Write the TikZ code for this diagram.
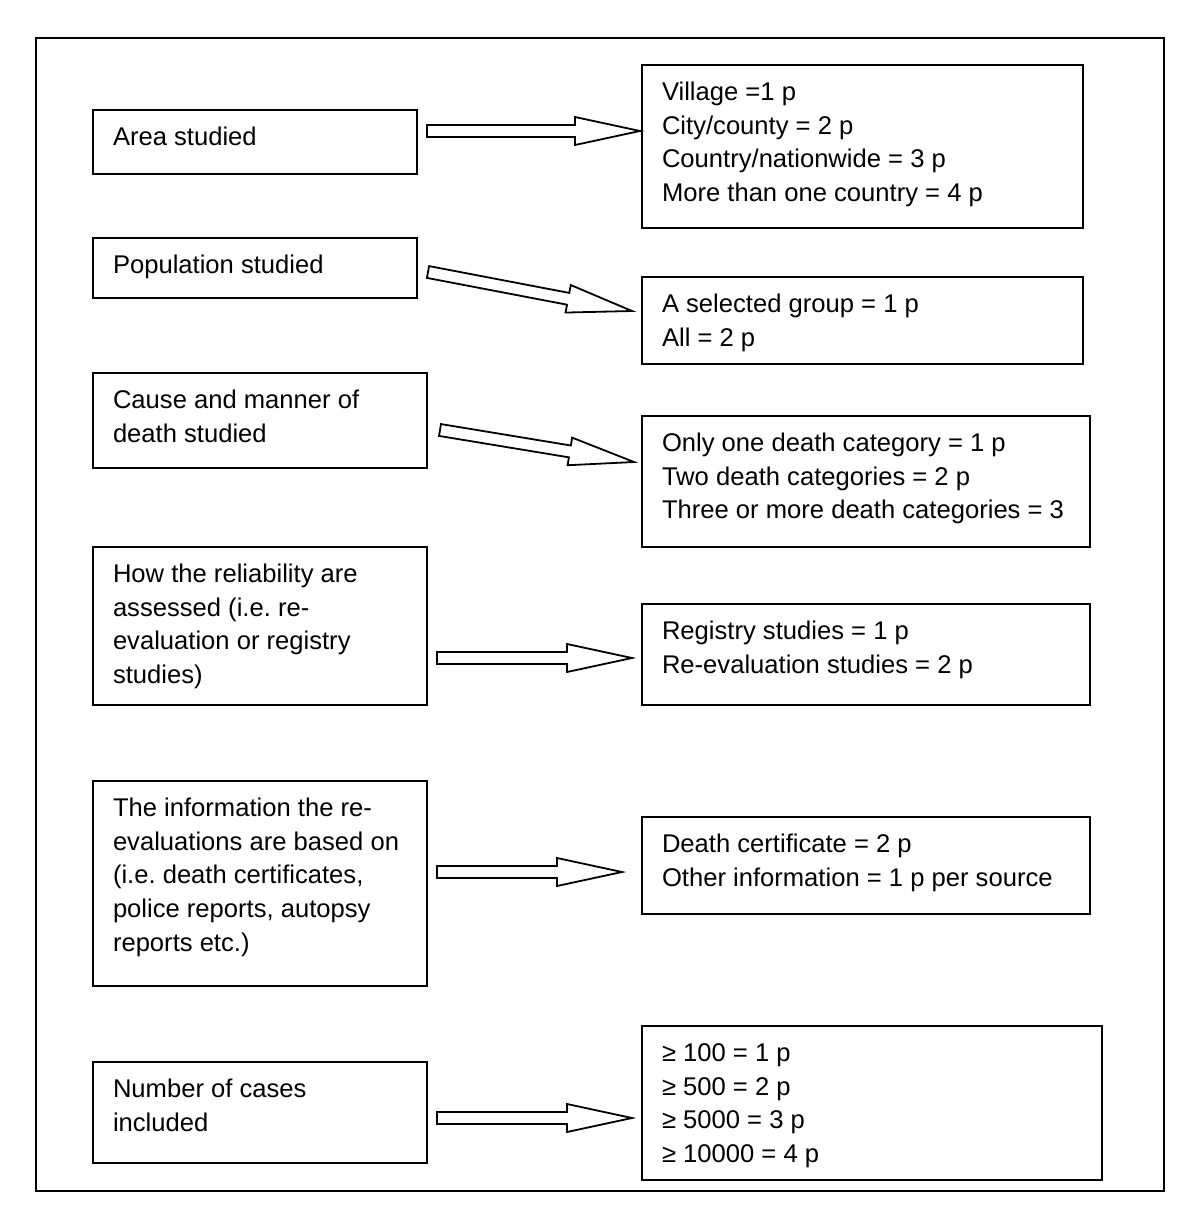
\documentclass[tikz,border=0pt]{standalone}
\usepackage{fontspec}
\setmainfont{Liberation Sans}
\usetikzlibrary{calc}
\frenchspacing

% text block of a box: width and height given in picture units
\newcommand{\cell}[3]{\parbox[c][\dimexpr#2pt/2-10pt\relax][t]{\dimexpr#1pt/2-20pt\relax}{\vspace*{0.8pt}\fontsize{12.8}{16.9}\selectfont\raggedright\strut #3}}

% hollow block arrow from #1 to #2
\newcommand{\blockarrow}[2]{%
  \coordinate (bah) at ($(#2)!32.5pt!(#1)$);
  \draw[fatarrow] ($(#1)!3pt!90:(#2)$) -- ($(bah)!3pt!-90:(#1)$) -- ($(bah)!7pt!-90:(#1)$)
    -- (#2) -- ($(bah)!7pt!90:(#1)$) -- ($(bah)!3pt!90:(#1)$) -- ($(#1)!3pt!-90:(#2)$) -- cycle;}

\tikzset{
  box/.style={draw, line width=1pt, anchor=north west, inner xsep=10pt, inner ysep=5pt, outer sep=0pt},
  fatarrow/.style={draw, line width=0.9pt, fill=white, line join=miter},
}

\begin{document}
\begin{tikzpicture}[x=0.5pt, y=-0.5pt]
\useasboundingbox (0,0) rectangle (1200,1232);
\draw[line width=1pt] (36,38) rectangle (1164,1191); %outer frame

%left column
\node[box] (area) at (93,110) {\cell{324}{64}{Area studied}};
\node[box] (pop) at (93,238) {\cell{324}{60}{Population studied}};
\node[box] (cause) at (93,373) {\cell{334}{95}{Cause and manner of\\ death studied}};
\node[box] (reliab) at (93,547) {\cell{334}{158}{How the reliability are\\ assessed (i.e. re-\\ evaluation or registry\\ studies)}};
\node[box] (info) at (93,781) {\cell{334}{205}{The information the re-\\ evaluations are based on\\ (i.e. death certificates,\\ police reports, autopsy\\ reports etc.)}};
\node[box] (cases) at (93,1062) {\cell{334}{101}{Number of cases\\ included}};

%right column
\node[box] (areapts) at (642,65) {\cell{441}{163}{Village =1 p\\ City/county = 2 p\\ Country/nationwide = 3 p\\ More than one country = 4 p}};
\node[box] (poppts) at (642,277) {\cell{441}{87}{A selected group = 1 p\\ All = 2 p}};
\node[box] (causepts) at (642,416) {\cell{448}{131}{Only one death category = 1 p\\ Two death categories = 2 p\\ Three or more death categories = 3}};
\node[box] (reliabpts) at (642,604) {\cell{448}{101}{Registry studies = 1 p\\ Re-evaluation studies = 2 p}};
\node[box] (infopts) at (642,817) {\cell{448}{97}{Death certificate = 2 p\\ Other information = 1 p per source}};
\node[box] (casespts) at (642,1026) {\cell{460}{154}{≥ 100 = 1 p\\ ≥ 500 = 2 p\\ ≥ 5000 = 3 p\\ ≥ 10000 = 4 p}};

%arrow ends
\coordinate (a1s) at ([shift={(10,-11)}]area.east);
\coordinate (a1e) at ([shift={(-2,-15.5)}]areapts.west);
\coordinate (a2s) at ([shift={(11,4)}]pop.east);
\coordinate (a2e) at ([shift={(-10,-9.5)}]poppts.west);
\coordinate (a3s) at ([shift={(13,9.5)}]cause.east);
\coordinate (a3e) at ([shift={(-8,-19.5)}]causepts.west);
\coordinate (a4s) at ([shift={(10,32)}]reliab.east);
\coordinate (a4e) at ([shift={(-10,3.5)}]reliabpts.west);
\coordinate (a5s) at ([shift={(10,-11.5)}]info.east);
\coordinate (a5e) at ([shift={(-20,6.5)}]infopts.west);
\coordinate (a6s) at ([shift={(10,5.5)}]cases.east);
\coordinate (a6e) at ([shift={(-10,15)}]casespts.west);

\blockarrow{a1s}{a1e}
\blockarrow{a2s}{a2e}
\blockarrow{a3s}{a3e}
\blockarrow{a4s}{a4e}
\blockarrow{a5s}{a5e}
\blockarrow{a6s}{a6e}
\end{tikzpicture}
\end{document}
